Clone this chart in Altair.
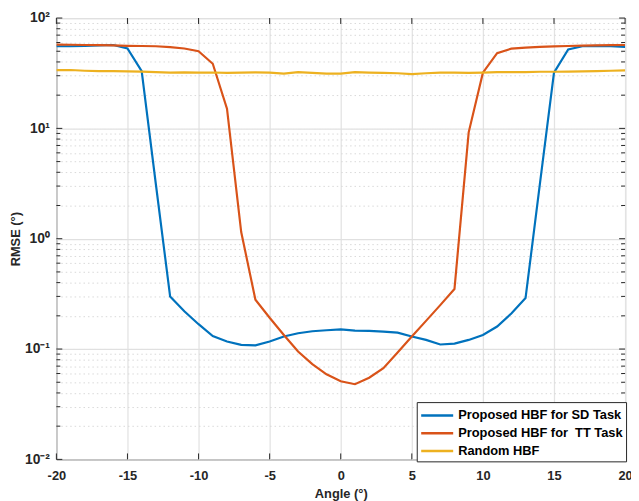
import altair as alt
import pandas as pd

angles = list(range(-20, 21))

sd_task = [55.5, 55.5, 56, 56.5, 57, 53, 33, 3.1, 0.30, 0.22, 0.168, 0.131, 0.117, 0.109,
           0.108, 0.117, 0.130, 0.139, 0.145, 0.148, 0.151, 0.147, 0.146, 0.144, 0.141,
           0.130, 0.121, 0.110, 0.112, 0.121, 0.134, 0.16, 0.21, 0.29, 3.07, 32, 52,
           55.5, 56, 55.5, 54.8]

tt_task = [57.5, 57.3, 57, 56.8, 56.5, 56, 55.8, 55.5, 54.5, 53, 50, 38.5, 15.1, 1.15,
           0.28, 0.192, 0.134, 0.095, 0.073, 0.059, 0.051, 0.048, 0.055, 0.067, 0.093,
           0.13, 0.18, 0.25, 0.35, 9.2, 32, 48, 52.8, 54, 54.8, 55.3, 55.8, 56.2, 56.5,
           56.8, 57]

random_hbf = [33.7, 33.8, 33.3, 33.0, 33.0, 32.8, 32.7, 32.3, 32.0, 32.2, 32.0, 32.1, 31.9,
              32.0, 32.2, 32.0, 31.4, 32.3, 31.8, 31.4, 31.4, 32.3, 32.0, 31.8, 31.6, 31.0,
              31.6, 32.0, 32.0, 31.9, 32.0, 32.3, 32.3, 32.3, 32.6, 32.6, 32.7, 32.9, 33.0,
              33.3, 33.6]

series_names = ["Proposed HBF for SD Task", "Proposed HBF for\u00a0 TT Task", "Random HBF"]
series_colors = ["#0072BD", "#D95319", "#EDB120"]

x_ticks = [-20, -15, -10, -5, 0, 5, 10, 15, 20]
y_major = [0.01, 0.1, 1, 10, 100]
y_minor = [k * 10.0 ** e for e in range(-2, 2) for k in range(2, 10)]

W, H = 576, 447
FONT = "Liberation Sans"
INK = "#262626"

rows = []
for name, vals in zip(series_names, [sd_task, tt_task, random_hbf]):
    for a, v in zip(angles, vals):
        rows.append({"angle": a, "rmse": v, "series": name})
df = pd.DataFrame(rows)

xs = alt.Scale(domain=[-20, 20], nice=False)
ys = alt.Scale(type="log", domain=[0.01, 100], nice=False)

major_test = "abs(log(datum.value)/LN10 - round(log(datum.value)/LN10)) < 0.001"
label_expr = (
    f"({major_test}) ? (round(log(datum.value)/LN10) == 2 ? '10\u00b2' : "
    "round(log(datum.value)/LN10) == 1 ? '10\u00b9' : "
    "round(log(datum.value)/LN10) == 0 ? '10\u2070' : "
    "round(log(datum.value)/LN10) == -1 ? '10\u207b\u00b9' : '10\u207b\u00b2') : ''"
)

lines = alt.Chart(df).mark_line(strokeWidth=2.2, clip=True).encode(
    x=alt.X("angle:Q", scale=xs,
            axis=alt.Axis(values=x_ticks, title="Angle (\u00b0)", grid=True,
                          gridColor="#e3e3e3", gridWidth=1.3, ticks=False,
                          domain=False, labelPadding=10, titlePadding=6,
                          labelFlush=False, labelExpr="toString(datum.value)")),
    y=alt.Y("rmse:Q", scale=ys,
            axis=alt.Axis(values=y_major + y_minor, title="RMSE (\u00b0)", grid=True,
                          gridColor={"condition": {"test": major_test, "value": "#e0e0e0"},
                                     "value": "#d8d8d8"},
                          gridDash={"condition": {"test": major_test, "value": [1, 0]},
                                    "value": [1.5, 3]},
                          gridWidth={"condition": {"test": major_test, "value": 1.3},
                                     "value": 1},
                          ticks=False, domain=False, labelExpr=label_expr,
                          labelPadding=7, titlePadding=2, labelFontSize=14)),
    color=alt.Color("series:N",
                    scale=alt.Scale(domain=series_names, range=series_colors),
                    sort=series_names,
                    legend=alt.Legend(title=None, orient="none", legendX=365, legendY=389,
                                      fillColor="white", strokeColor=INK, padding=3,
                                      symbolType="M-1,0H2.6", symbolStrokeWidth=2.5,
                                      symbolSize=324, labelFontSize=13,
                                      labelFontWeight="bold", labelFont=FONT,
                                      labelColor="black", labelLimit=400,
                                      rowPadding=0, labelOffset=18)),
)

tick_df_x = pd.DataFrame({"v": x_ticks})
tick_df_ymaj = pd.DataFrame({"v": y_major})
tick_df_ymin = pd.DataFrame({"v": y_minor})

def xtick(y0, y1):
    return alt.Chart(tick_df_x).mark_rule(color=INK, strokeWidth=1).encode(
        x=alt.X("v:Q", scale=xs), y=alt.value(y0), y2=alt.value(y1))

def ytick(dfv, x0, x1):
    return alt.Chart(dfv).mark_rule(color=INK, strokeWidth=1).encode(
        y=alt.Y("v:Q", scale=ys), x=alt.value(x0), x2=alt.value(x1))

ticks = [
    xtick(H, H - 6), xtick(0, 6),
    ytick(tick_df_ymaj, 0, 6), ytick(tick_df_ymaj, W, W - 6),
    ytick(tick_df_ymin, 0, 4), ytick(tick_df_ymin, W, W - 4),
]

chart = alt.layer(*ticks, lines).properties(
    width=W, height=H,
    background="white",
    autosize=alt.AutoSizeParams(type="none"),
    padding={"left": 49, "top": 7, "right": 6, "bottom": 40},
).configure_view(
    stroke=INK, strokeWidth=1
).configure_axis(
    labelFont=FONT, titleFont=FONT, labelFontWeight="bold", titleFontWeight="bold",
    labelFontSize=13, titleFontSize=13, labelColor=INK, titleColor=INK
)

chart.save("out.html", embed_options={"renderer": "svg", "actions": False})
